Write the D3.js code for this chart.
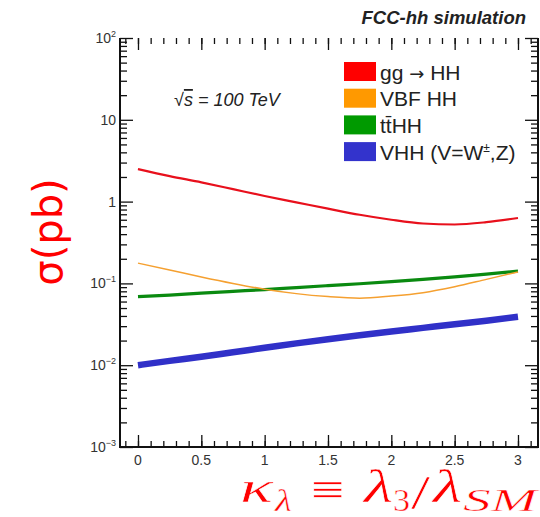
<!DOCTYPE html>
<html lang="en">
<head>
<meta charset="UTF-8">
<title>HH cross sections</title>
<style>
  body { margin: 0; background: #fff; }
  text { font-family: "Liberation Sans", Arial, sans-serif; }
</style>
</head>
<body>
<script src="https://cdn.jsdelivr.net/npm/d3@7"></script>
<script>
const kappa = [0, 0.25, 0.5, 0.75, 1, 1.25, 1.5, 1.75, 2, 2.25, 2.5, 2.75, 3];
// cross sections in pb
const ggHH  = [2.5, 2.05, 1.72, 1.42, 1.17, 0.98, 0.82, 0.69, 0.6, 0.54, 0.525, 0.56, 0.63];
const vbfHH = [0.177, 0.146, 0.12, 0.1, 0.085, 0.075, 0.069, 0.066, 0.07, 0.077, 0.091, 0.112, 0.138];
const ttHH  = [0.069, 0.072, 0.076, 0.08, 0.084, 0.089, 0.094, 0.099, 0.105, 0.112, 0.12, 0.13, 0.141];
const vHH   = [0.01, 0.0113, 0.0127, 0.0144, 0.0163, 0.0185, 0.0208, 0.0232, 0.0258, 0.0286, 0.0317, 0.035, 0.039];

const seriesNames = ['gg', 'VBF HH', 't\u0074\u0304HH', 'VHH'];
const seriesColors = ['#ff0000', '#ff9900', '#009a00', '#3333cc'];
const lineColors = ['#e8101c', '#f5a030', '#0a8a10', '#3030c8'];
const lineWidths = [2.2, 1.5, 3.2, 6.5];
const xTicks = [0, 0.5, 1, 1.5, 2, 2.5, 3];
const yExp = [2, 1, 0, -1, -2, -3];

const w = 540, h = 517;
const svg = d3.select('body').append('svg')
  .attr('width', w).attr('height', h);

const pLeft = 120, pRight = 538, pTop = 38, pBottom = 447;
const xScale = d3.scaleLinear().domain([-0.142, 3.158]).range([pLeft, pRight]);
const yScale = d3.scaleLog().domain([1e-3, 1e2]).range([pBottom, pTop]);

// curves
const line = d3.line()
  .x((d) => xScale(d[0]))
  .y((d) => yScale(d[1]))
  .curve(d3.curveMonotoneX);

const allSeries = [ggHH, vbfHH, ttHH, vHH];
// thick ones underneath
[3, 2, 1, 0].forEach((i) => {
  svg.append('path')
    .datum(kappa.map((k, j) => [k, allSeries[i][j]]))
    .attr('d', line)
    .attr('fill', 'none')
    .attr('stroke', lineColors[i])
    .attr('stroke-width', lineWidths[i]);
});

// frame + ticks
const minorX = d3.range(-1, 32).map((d) => d / 10).filter((d) => d > -0.142 && d < 3.158);
const minorY = [];
for (let e = -3; e < 2; e++) {
  for (let m = 2; m <= 9; m++) minorY.push(m * Math.pow(10, e));
}
const majorY = yExp.map((e) => Math.pow(10, e));

function addAxis(axis, tr) {
  svg.append('g').attr('transform', tr).call(axis.tickFormat(''))
    .call((g) => g.select('.domain').remove())
    .call((g) => g.selectAll('text').remove())
    .call((g) => g.selectAll('line').attr('stroke', '#111').attr('stroke-width', 1.3));
}
addAxis(d3.axisBottom(xScale).tickValues(minorX).tickSize(-6), `translate(0,${pBottom})`);
addAxis(d3.axisBottom(xScale).tickValues(xTicks).tickSize(-12), `translate(0,${pBottom})`);
addAxis(d3.axisTop(xScale).tickValues(minorX).tickSize(-6), `translate(0,${pTop})`);
addAxis(d3.axisTop(xScale).tickValues(xTicks).tickSize(-12), `translate(0,${pTop})`);
addAxis(d3.axisLeft(yScale).tickValues(minorY).tickSize(-7), `translate(${pLeft},0)`);
addAxis(d3.axisLeft(yScale).tickValues(majorY).tickSize(-13), `translate(${pLeft},0)`);
addAxis(d3.axisRight(yScale).tickValues(minorY).tickSize(-7), `translate(${pRight},0)`);
addAxis(d3.axisRight(yScale).tickValues(majorY).tickSize(-13), `translate(${pRight},0)`);

svg.append('path')
  .attr('d', `M${pLeft},${pTop}V${pBottom}H${pRight}V${pTop}`)
  .attr('fill', 'none').attr('stroke', '#111').attr('stroke-width', 2);

// tick labels
svg.selectAll('.xlab').data(xTicks).enter().append('text')
  .attr('class', 'xlab')
  .attr('x', (d) => xScale(d)).attr('y', 465)
  .attr('text-anchor', 'middle').attr('font-size', 14).attr('fill', '#333')
  .text((d) => d);

yExp.forEach((e) => {
  const t = svg.append('text')
    .attr('x', 116).attr('y', yScale(Math.pow(10, e)) + 5)
    .attr('text-anchor', 'end').attr('font-size', 14).attr('fill', '#333');
  if (e === 0) { t.text('1'); return; }
  t.append('tspan').text('10');
  if (e !== 1) {
    t.append('tspan').attr('font-size', 9).attr('dy', -6)
      .text(e < 0 ? '\u2212' + (-e) : e);
  }
});

// legend
seriesNames.forEach((n, i) => {
  const y0 = 62 + i * 26.7;
  svg.append('rect').attr('x', 344).attr('y', y0).attr('width', 32).attr('height', 19)
    .attr('fill', seriesColors[i]);
  const t = svg.append('text').attr('x', 380).attr('y', y0 + 17.5)
    .attr('font-size', 21).attr('fill', '#222').text(n);
  if (i === 0) {
    t.append('tspan').text(' ');
    t.append('tspan').style('font-family', '"DejaVu Sans", sans-serif')
      .attr('font-size', 18).text('\u2192');
    t.append('tspan').text(' HH');
  }
  if (i === 3) {
    t.append('tspan').text(' (V=W');
    t.append('tspan').attr('font-size', 12).attr('dy', -8).text('\u00b1');
    t.append('tspan').attr('dy', 8).text(',Z)');
  }
});

// title and energy
svg.append('text').attr('x', 526).attr('y', 24).attr('text-anchor', 'end')
  .attr('font-size', 18.5).attr('font-weight', 'bold').attr('font-style', 'italic')
  .attr('fill', '#222').text('FCC-hh simulation');

const en = svg.append('text').attr('x', 174).attr('y', 106)
  .attr('font-size', 18).attr('font-style', 'italic').attr('fill', '#222');
en.append('tspan').text('\u221a');
en.append('tspan').attr('text-decoration', 'overline').text('s');
en.append('tspan').text(' = 100 TeV');

// axis titles
svg.append('text')
  .attr('transform', 'translate(62,232) rotate(-90)')
  .attr('text-anchor', 'middle')
  .style('font-family', '"DejaVu Sans", sans-serif')
  .attr('font-size', 40).attr('fill', '#ff0000')
  .text('\u03c3(pb)');

// thin white outline makes the serif glyphs a bit lighter, like the TeX label
const piece = (s, x, y, size, len, italic) => svg.append('text')
  .style('font-family', '"Liberation Serif", serif')
  .attr('fill', '#ff0000').attr('stroke', '#fff').attr('stroke-width', 0.5)
  .attr('x', x).attr('y', y).attr('font-size', size)
  .attr('font-style', italic ? 'italic' : 'normal')
  .attr('textLength', len).attr('lengthAdjust', 'spacingAndGlyphs')
  .text(s);
piece('\u03ba', 240, 502, 44, 33, true);
piece('\u03bb', 275, 511, 31, 17, true);
piece('\u2261', 311, 505, 46, 34, false);
piece('\u03bb', 364, 502, 46, 29, true);
piece('3', 393, 511, 31, 17, false);
piece('/', 411, 509, 48, 19, false);
piece('\u03bb', 433, 502, 46, 29, true);
piece('SM', 463, 511, 31, 74, true);
</script>
</body>
</html>
